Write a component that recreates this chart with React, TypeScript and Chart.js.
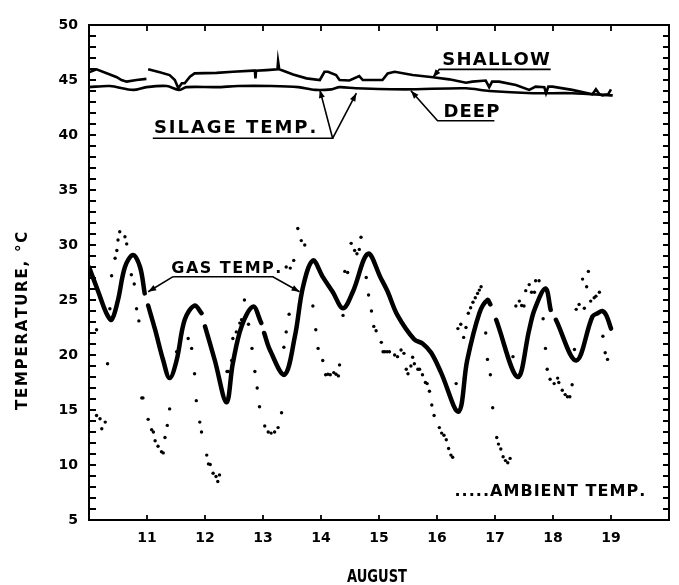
import React, { useEffect, useRef } from "react";
import { Chart, registerables } from "chart.js";

Chart.register(...registerables);

// ---------------- data ----------------
const xTickLabels = ["11", "12", "13", "14", "15", "16", "17", "18", "19"];
const yTickStep = 5;

const shallowDays = [
  10.0, 10.13, 10.36, 10.48, 10.56, 10.65, 10.82, 10.99, 11.0, 11.02, 11.22, 11.39, 11.48, 11.54, 11.6, 11.65,
  11.74, 11.82, 12.2, 12.48, 12.83, 12.86, 12.87, 12.88, 13.06, 13.25, 13.26, 13.28, 13.52, 13.75, 13.98,
  14.06, 14.12, 14.26, 14.32, 14.49, 14.66, 14.72, 15.06, 15.15, 15.27, 15.58, 15.93, 16.21, 16.5, 16.61,
  16.84, 16.9, 16.95, 17.07, 17.36, 17.59, 17.7, 17.85, 17.88, 17.92, 17.99, 18.33, 18.6, 18.68, 18.74,
  18.8, 18.85, 18.95, 19.0,
];
const shallowTemps = [
  45.7, 45.97, 45.5, 45.25, 45.0, 44.85, 45.0, 45.1, null, 45.97, 45.7, 45.45, 45.0, 44.25, 44.7, 44.7,
  45.3, 45.6, 45.65, 45.75, 45.85, 45.85, 45.15, 45.85, 45.9, 45.97, 46.7, 45.97, 45.5, 45.15, 45.0,
  45.75, 45.75, 45.45, 45.0, 44.95, 45.35, 45.0, 45.0, 45.6, 45.75, 45.45, 45.25, 45.06, 44.75, 44.85,
  44.95, 44.35, 44.85, 44.85, 44.55, 44.1, 44.4, 44.35, 43.8, 44.4, 44.4, 44.1, 43.8, 43.7, 44.15,
  43.7, 43.6, 43.7, 44.15,
];

const deepDays = [
  10.0, 10.36, 10.76, 10.99, 11.34, 11.55, 11.68, 12.2, 12.57, 13.14, 13.61, 13.9, 14.18, 14.32, 14.6,
  15.46, 16.5, 16.9, 17.65, 18.33, 19.03,
];
const deepTemps = [
  44.35, 44.45, 44.1, 44.35, 44.45, 44.1, 44.35, 44.35, 44.45, 44.45, 44.35, 44.1, 44.15, 44.35, 44.25,
  44.15, 44.25, 44.0, 43.8, 43.8, 43.6,
];

const gasDays = [
  10.0, 10.16, 10.3, 10.39, 10.5, 10.62, 10.76, 10.88, 10.96, 10.99, 11.02, 11.14, 11.28, 11.39, 11.51,
  11.65, 11.82, 11.94, 11.97, 12.0, 12.17, 12.37, 12.48, 12.63, 12.83, 12.97, 12.99, 13.02, 13.12, 13.37,
  13.55, 13.69, 13.86, 14.03, 14.2, 14.38, 14.55, 14.81, 15.03, 15.15, 15.32, 15.61, 15.75, 15.9, 16.07,
  16.37, 16.52, 16.73, 16.87, 16.92, 16.96, 17.02, 17.39, 17.59, 17.68, 17.87, 17.96, 18.0, 18.05, 18.4,
  18.68, 18.77, 18.85, 18.92, 19.0,
];
const gasTemps = [
  28.0, 25.75, 23.8, 23.2, 25.0, 28.0, 29.1, 28.0, 25.6, null, 24.5, 22.3, 19.5, 17.9, 19.5,
  23.2, 24.5, 23.8, null, 22.6, 19.5, 15.7, 19.25, 22.6, 24.4, 22.9, null, 22.0, 20.45, 18.2,
  21.7, 26.2, 28.6, 27.1, 25.75, 24.25, 25.75, 29.2, 27.0, 25.75, 23.6, 21.4, 21.05, 20.2, 18.4,
  14.85, 19.5, 23.8, 25.0, 24.6, null, 23.2, 18.0, 22.3, 24.1, 26.05, 24.1, null, 23.2, 19.5,
  23.5, 23.8, 24.0, 23.6, 22.4,
];

const ambientDays = [
  10.13, 10.13, 10.19, 10.22, 10.28, 10.32, 10.36, 10.39, 10.45, 10.48, 10.5, 10.53, 10.62, 10.65, 10.73,
  10.78, 10.82, 10.86, 10.91, 10.93, 11.02, 11.08, 11.11, 11.14, 11.19, 11.25, 11.28, 11.31, 11.35, 11.39,
  11.51, 11.57, 11.71, 11.77, 11.82, 11.85, 11.91, 11.94, 12.03, 12.06, 12.09, 12.14, 12.19, 12.22, 12.25,
  12.38, 12.4, 12.46, 12.48, 12.54, 12.6, 12.63, 12.68, 12.75, 12.81, 12.86, 12.9, 12.94, 13.03, 13.09,
  13.14, 13.2, 13.26, 13.32, 13.36, 13.4, 13.4, 13.45, 13.47, 13.53, 13.6, 13.66, 13.72, 13.86, 13.91,
  13.95, 14.03, 14.08, 14.12, 14.16, 14.22, 14.26, 14.3, 14.32, 14.38, 14.41, 14.46, 14.52, 14.58, 14.62,
  14.66, 14.69, 14.78, 14.82, 14.87, 14.91, 14.95, 15.04, 15.07, 15.1, 15.14, 15.18, 15.27, 15.32, 15.38,
  15.43, 15.47, 15.5, 15.55, 15.58, 15.61, 15.67, 15.7, 15.75, 15.8, 15.83, 15.87, 15.91, 15.95, 16.04,
  16.08, 16.12, 16.16, 16.2, 16.24, 16.27, 16.33, 16.36, 16.41, 16.46, 16.5, 16.54, 16.58, 16.62, 16.66,
  16.7, 16.73, 16.76, 16.84, 16.87, 16.92, 16.96, 17.03, 17.06, 17.1, 17.14, 17.18, 17.22, 17.26, 17.31,
  17.36, 17.42, 17.46, 17.5, 17.53, 17.59, 17.63, 17.68, 17.7, 17.76, 17.83, 17.87, 17.9, 17.95, 18.02,
  18.08, 18.1, 18.16, 18.21, 18.25, 18.29, 18.33, 18.37, 18.4, 18.45, 18.51, 18.54, 18.58, 18.61, 18.65,
  18.71, 18.74, 18.8, 18.86, 18.9, 18.94,
];
const ambientTemps = [
  22.3, 14.5, 14.2, 13.3, 13.9, 19.2, 24.2, 27.2, 28.8, 29.5, 30.45, 31.2, 30.75, 30.1, 27.3,
  26.45, 24.2, 23.1, 16.1, 16.1, 14.15, 13.2, 13.0, 12.2, 11.7, 11.2, 11.1, 12.5, 13.6, 15.1,
  20.3, 21.1, 21.5, 20.6, 18.3, 15.85, 13.9, 13.0, 10.9, 10.1, 10.05, 9.25, 8.95, 8.5, 9.1,
  18.5, 18.5, 19.5, 21.5, 22.1, 22.9, 23.2, 25.0, 22.8, 20.6, 18.5, 17.0, 15.3, 13.55, 13.0,
  12.9, 13.0, 13.4, 14.75, 20.7, 22.1, 28.0, 23.7, 27.9, 28.6, 31.5, 30.4, 30.0, 24.45, 22.3,
  20.6, 19.5, 18.2, 18.25, 18.2, 18.4, 18.25, 18.1, 19.1, 23.6, 27.6, 27.5, 30.15, 29.5, 29.2,
  29.6, 30.7, 27.05, 25.45, 24.0, 22.6, 22.2, 21.15, 20.3, 20.3, 20.3, 20.3, 20.0, 19.85, 20.45,
  20.15, 18.7, 18.3, 19.0, 19.8, 19.2, 18.7, 18.7, 18.2, 17.5, 17.4, 16.7, 15.45, 14.5, 13.4,
  12.9, 12.7, 12.3, 11.5, 10.9, 10.7, 17.4, 22.4, 22.8, 21.6, 22.5, 23.8, 24.3, 24.8, 25.2,
  25.6, 25.9, 26.2, 22.0, 19.6, 18.2, 15.2, 12.5, 11.9, 11.45, 10.75, 10.4, 10.2, 10.6, 19.85,
  24.45, 24.9, 24.5, 24.45, 25.85, 26.4, 25.7, 25.7, 26.75, 26.75, 23.3, 20.6, 18.7, 17.8, 17.4,
  17.9, 17.5, 16.8, 16.4, 16.2, 16.2, 17.3, 20.5, 24.15, 24.6, 26.9, 24.25, 26.2, 27.6, 24.9,
  25.2, 25.35, 25.7, 21.7, 20.2, 19.6,
];

// annotation texts (anchored in data units: left edge day, cap-centre temperature)
const noteTexts = [
  { text: "SHALLOW", day: 16.09, temp: 47.0, size: 18, width: 107 },
  { text: "DEEP", day: 16.11, temp: 42.27, size: 18, width: 56 },
  { text: "SILAGE TEMP.", day: 11.12, temp: 40.75, size: 18, width: 159 },
  { text: "GAS TEMP.", day: 11.42, temp: 28.03, size: 16, width: 107 },
  { text: ".....AMBIENT TEMP.", day: 16.3, temp: 7.73, size: 16, width: 188 },
];
// leader lines (day, temp) with arrow at last point
const leaders = [
  [[17.96, 45.97], [16.04, 45.97], [15.93, 45.25]],
  [[16.99, 41.3], [16.01, 41.3], [15.55, 44.03]],
  [[11.1, 39.7], [14.2, 39.7], [13.98, 44.1]],
  [[14.2, 39.7], [14.61, 43.8]],
  [[11.45, 27.12], [11.02, 25.75]],
  [[11.45, 27.12], [13.17, 27.12], [13.63, 25.75]],
];

const FONT = '"DejaVu Sans", "Liberation Sans", Arial, sans-serif';

function drawFitted(ctx: CanvasRenderingContext2D, text: string, x: number, y: number, w: number) {
  const nat = ctx.measureText(text).width;
  if (w <= nat || text.length < 2) {
    ctx.save();
    ctx.translate(x, y);
    ctx.scale(w / nat, 1);
    ctx.fillText(text, 0, 0);
    ctx.restore();
    return;
  }
  const gap = (w - nat) / (text.length - 1);
  let cx = x;
  for (const ch of text) {
    ctx.fillText(ch, cx, y);
    cx += ctx.measureText(ch).width + gap;
  }
}

const decorPlugin = {
  id: "decor",
  afterDraw(chart: any) {
    const ctx: CanvasRenderingContext2D = chart.ctx;
    const xs = chart.scales.x;
    const ys = chart.scales.y;
    const a = chart.chartArea;
    ctx.save();
    ctx.strokeStyle = "#000";
    ctx.fillStyle = "#000";
    // frame
    ctx.lineWidth = 2;
    ctx.strokeRect(a.left, a.top, a.right - a.left, a.bottom - a.top);
    // inward ticks
    ctx.lineWidth = 1.8;
    ctx.beginPath();
    for (let v = ys.min + 1; v < ys.max; v += 1) {
      const py = ys.getPixelForValue(v);
      ctx.moveTo(a.left, py);
      ctx.lineTo(a.left + 7, py);
      ctx.moveTo(a.right, py);
      ctx.lineTo(a.right - 6, py);
    }
    for (let d = xs.min + 1; d < xs.max; d += 1) {
      const px = xs.getPixelForValue(d);
      ctx.moveTo(px, a.bottom);
      ctx.lineTo(px, a.bottom - 5);
      ctx.moveTo(px, a.top);
      ctx.lineTo(px, a.top + 6);
    }
    ctx.stroke();

    // leader lines with arrowheads
    ctx.lineWidth = 1.6;
    for (const pts of leaders) {
      const pp = pts.map(([d, t]) => [xs.getPixelForValue(d), ys.getPixelForValue(t)]);
      ctx.beginPath();
      ctx.moveTo(pp[0][0], pp[0][1]);
      for (let i = 1; i < pp.length; i++) ctx.lineTo(pp[i][0], pp[i][1]);
      ctx.stroke();
      const [x1, y1] = pp[pp.length - 2];
      const [x2, y2] = pp[pp.length - 1];
      const ang = Math.atan2(y2 - y1, x2 - x1);
      const L = 8, W = 3;
      ctx.beginPath();
      ctx.moveTo(x2, y2);
      ctx.lineTo(x2 - L * Math.cos(ang) + W * Math.sin(ang), y2 - L * Math.sin(ang) - W * Math.cos(ang));
      ctx.lineTo(x2 - L * Math.cos(ang) - W * Math.sin(ang), y2 - L * Math.sin(ang) + W * Math.cos(ang));
      ctx.closePath();
      ctx.fill();
    }

    // annotation texts
    ctx.textAlign = "left";
    ctx.textBaseline = "alphabetic";
    for (const n of noteTexts) {
      ctx.font = `bold ${n.size}px ${FONT}`;
      const px = xs.getPixelForValue(n.day);
      const py = ys.getPixelForValue(n.temp) + n.size * 0.365;
      drawFitted(ctx, n.text, px, py, n.width);
    }

    // axis titles
    ctx.font = `bold 15px ${FONT}`;
    ctx.save();
    ctx.translate(a.left - 67 + 15 * 0.365, 321.5);
    ctx.rotate(-Math.PI / 2);
    drawFitted(ctx, "TEMPERATURE, °C", -88.5, 0, 177);
    ctx.restore();
    ctx.font = `bold 18px ${FONT}`;
    drawFitted(ctx, "AUGUST", 347, 575 + 18 * 0.365, 60);
    ctx.restore();
  },
};

export default function App() {
  const ref = useRef<HTMLCanvasElement | null>(null);
  useEffect(() => {
    if (!ref.current) return;
    const toPts = (xs: number[], ys: (number | null)[]) => xs.map((x, i) => ({ x, y: ys[i] }));
    const chart = new Chart(ref.current, {
      type: "line",
      data: {
        datasets: [
          {
            label: "Shallow",
            data: toPts(shallowDays, shallowTemps) as any,
            borderColor: "#000",
            borderWidth: 2.6,
            pointRadius: 0,
            tension: 0,
            spanGaps: false,
          },
          {
            label: "Deep",
            data: toPts(deepDays, deepTemps) as any,
            borderColor: "#000",
            borderWidth: 2.6,
            pointRadius: 0,
            tension: 0.3,
          },
          {
            label: "Gas temp.",
            data: toPts(gasDays, gasTemps) as any,
            borderColor: "#000",
            borderWidth: 4.5,
            pointRadius: 0,
            tension: 0.35,
            spanGaps: false,
            borderCapStyle: "round",
            borderJoinStyle: "round",
          },
          {
            label: "Ambient temp.",
            data: toPts(ambientDays, ambientTemps) as any,
            showLine: false,
            pointRadius: 1.7,
            pointBackgroundColor: "#000",
            pointBorderWidth: 0,
            borderColor: "#000",
          },
        ],
      },
      options: {
        animation: false,
        responsive: false,
        devicePixelRatio: 1,
        layout: { padding: { left: 0, right: 9, top: 25, bottom: 0 } },
        plugins: { legend: { display: false }, tooltip: { enabled: false } },
        scales: {
          x: {
            type: "linear",
            min: 10,
            max: 20,
            afterFit: (s: any) => {
              s.height = 65;
            },
            grid: { display: false, drawTicks: false },
            border: { display: false },
            ticks: {
              stepSize: 1,
              autoSkip: false,
              maxRotation: 0,
              padding: 10,
              color: "#000",
              font: { family: FONT, size: 14, weight: "bold" },
              callback: (v: any) => (xTickLabels.includes(String(v)) ? String(v) : ""),
            },
          },
          y: {
            type: "linear",
            min: 5,
            max: 50,
            afterFit: (s: any) => {
              s.width = 89;
            },
            grid: { display: false, drawTicks: false },
            border: { display: false },
            ticks: {
              stepSize: yTickStep,
              padding: 11,
              color: "#000",
              font: { family: FONT, size: 14, weight: "bold" },
            },
          },
        },
      },
      plugins: [decorPlugin],
    });
    return () => chart.destroy();
  }, []);
  return (
    <div style={{ position: "fixed", left: 0, top: 0, width: 679, height: 585, background: "#fff" }}>
      <canvas ref={ref} width={679} height={585} style={{ width: 679, height: 585, display: "block" }} />
    </div>
  );
}
